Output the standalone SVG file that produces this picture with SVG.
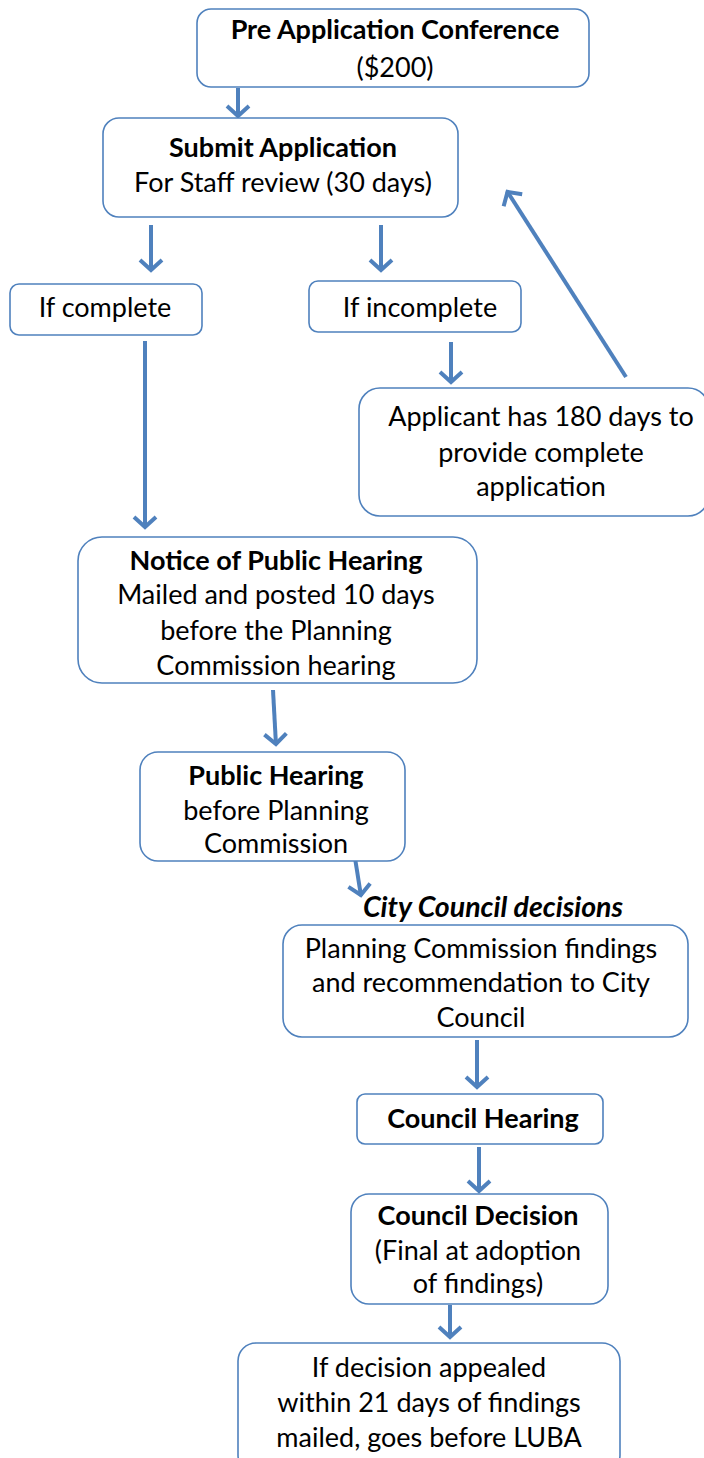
<svg xmlns="http://www.w3.org/2000/svg" width="704" height="1458" viewBox="0 0 704 1458">
<style>
.box{fill:#fff;stroke:#4F81BD;stroke-width:1.6}
.t{font-family:Lato,"Liberation Sans",sans-serif;font-size:27px;fill:#000;text-anchor:middle}
.b{font-weight:bold}
.i{font-style:italic;font-weight:bold;font-size:28.5px}
.arr{stroke:#4F81BD;stroke-width:4;fill:none;marker-end:url(#ah)}
</style>
<defs>
<marker id="ah" markerUnits="userSpaceOnUse" markerWidth="30" markerHeight="30" viewBox="-15 -15 30 30" refX="0" refY="0" orient="auto" overflow="visible">
<path d="M-11,-11 L-1,0 L-11,11" fill="none" stroke="#4F81BD" stroke-width="4" stroke-linejoin="miter"/>
</marker>
</defs>
<rect width="704" height="1458" fill="#fff"/>
<g id="connectors">
<line class="arr" x1="238" y1="88" x2="238" y2="117"/>
<line class="arr" x1="151" y1="225" x2="151" y2="271"/>
<line class="arr" x1="381" y1="225" x2="381" y2="271"/>
<line class="arr" x1="145" y1="341" x2="145" y2="528"/>
<line class="arr" x1="451" y1="342" x2="451" y2="383"/>
<line class="arr" x1="626" y1="377" x2="507" y2="191"/>
<line class="arr" x1="273" y1="690" x2="276" y2="745"/>
<line class="arr" x1="355" y1="858" x2="361" y2="896"/>
<line class="arr" x1="477" y1="1040" x2="477" y2="1088"/>
<line class="arr" x1="479" y1="1147" x2="479" y2="1192"/>
<line class="arr" x1="450" y1="1305" x2="450" y2="1338"/>
</g>
<g id="pre-app">
<rect class="box" x="197" y="9" width="392" height="78" rx="14"/>
<text class="t b" x="395" y="39">Pre Application Conference</text>
<text class="t" x="395" y="77">($200)</text>
</g>
<g id="submit">
<rect class="box" x="103" y="118" width="355" height="99" rx="16"/>
<text class="t b" x="283" y="157">Submit Application</text>
<text class="t" x="283" y="192">For Staff review (30 days)</text>
</g>
<g id="complete">
<rect class="box" x="10" y="284" width="192" height="51" rx="9"/>
<text class="t" x="105" y="317">If complete</text>
</g>
<g id="incomplete">
<rect class="box" x="309" y="281" width="212" height="51" rx="9"/>
<text class="t" x="420" y="317">If incomplete</text>
</g>
<g id="applicant">
<rect class="box" x="359" y="388" width="350" height="128" rx="21"/>
<text class="t" x="541" y="426">Applicant has 180 days to</text>
<text class="t" x="541" y="462">provide complete</text>
<text class="t" x="541" y="496">application</text>
</g>
<g id="notice">
<rect class="box" x="78" y="537" width="399" height="146" rx="24"/>
<text class="t b" x="276" y="570">Notice of Public Hearing</text>
<text class="t" x="276" y="604">Mailed and posted 10 days</text>
<text class="t" x="276" y="640">before the Planning</text>
<text class="t" x="276" y="675">Commission hearing</text>
</g>
<g id="public-hearing">
<rect class="box" x="140" y="752" width="265" height="109" rx="18"/>
<text class="t b" x="276" y="785">Public Hearing</text>
<text class="t" x="276" y="820">before Planning</text>
<text class="t" x="276" y="853">Commission</text>
</g>
<g id="city-council-label">
<text class="t i" x="493" y="917">City Council decisions</text>
</g>
<g id="pc-findings">
<rect class="box" x="283" y="925" width="405" height="112" rx="19"/>
<text class="t" x="481" y="958">Planning Commission findings</text>
<text class="t" x="481" y="992">and recommendation to City</text>
<text class="t" x="481" y="1027">Council</text>
</g>
<g id="council-hearing">
<rect class="box" x="357" y="1094" width="246" height="50" rx="8"/>
<text class="t b" x="483" y="1128">Council Hearing</text>
</g>
<g id="council-decision">
<rect class="box" x="351" y="1194" width="257" height="110" rx="18"/>
<text class="t b" x="478" y="1225">Council Decision</text>
<text class="t" x="478" y="1260">(Final at adoption</text>
<text class="t" x="478" y="1293">of findings)</text>
</g>
<g id="luba">
<rect class="box" x="238" y="1343" width="382" height="130" rx="18"/>
<text class="t" x="429" y="1377">If decision appealed</text>
<text class="t" x="429" y="1412">within 21 days of findings</text>
<text class="t" x="429" y="1447">mailed, goes before LUBA</text>
</g>
</svg>
